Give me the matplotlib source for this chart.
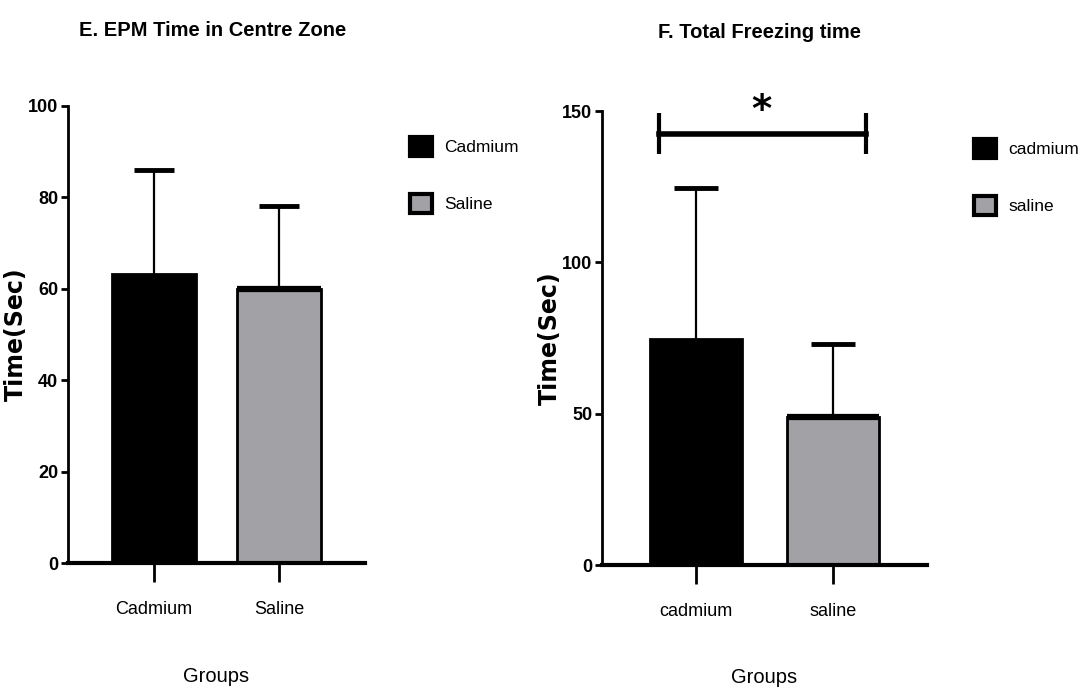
import numpy as np
import matplotlib.pyplot as plt
from matplotlib.patches import Patch

# data
groups_e = ['Cadmium', 'Saline']
means_e = [63.3, 60.0]
sem_e = [22.6, 18.2]

groups_f = ['cadmium', 'saline']
means_f = [74.7, 48.9]
sem_f = [49.8, 24.2]

colors = ['#000000', '#a2a2a6']

plt.rcParams['font.family'] = ['Liberation Sans', 'DejaVu Sans']

W, H = 1084, 695
fig = plt.figure(figsize=(W / 100, H / 100), dpi=100)


def panel(rect, groups, means, sem, ymax, step, title, title_xy, legend_xy, xlab_y):
    ax = fig.add_axes(rect)
    x = np.arange(len(groups))
    means = np.array(means)
    sem = np.array(sem)
    ax.bar(x, means, width=0.67, color=colors, edgecolor='black', linewidth=2, zorder=2)
    # heavier top edge on the grey bar, like the original
    ax.hlines(means[1], x[1] - 0.335, x[1] + 0.335, color='black', linewidth=4.5, zorder=3)
    # upper error bars only
    ax.vlines(x, means, means + sem, color='black', linewidth=1.6, zorder=1)
    ax.hlines(means + sem, x - 0.16, x + 0.16, color='black', linewidth=3.5, zorder=1)
    ax.set_xlim(-0.69, 1.69)
    ax.set_ylim(0, ymax)
    ax.set_yticks(np.arange(0, ymax + 1, step))
    ax.set_xticks(x)
    ax.set_xticklabels(groups, fontsize=13)
    for lab in ax.get_yticklabels():
        lab.set_fontsize(13)
        lab.set_fontweight('bold')
    for side in ['top', 'right']:
        ax.spines[side].set_visible(False)
    ax.spines['left'].set_linewidth(2)
    ax.spines['bottom'].set_linewidth(3)
    ax.spines['bottom'].set_zorder(4)
    ax.tick_params(axis='y', length=5, width=2, pad=2)
    ax.tick_params(axis='x', length=14, width=2, pad=13)
    ax.set_ylabel('Time(Sec)', fontsize=17, fontweight='bold', family='DejaVu Sans')
    ax.yaxis.set_label_coords(-40 / (rect[2] * W), 0.5)
    ax.set_xlabel('Groups', fontsize=14.5)
    ax.xaxis.set_label_coords(0.5, xlab_y)
    fig.text(title_xy[0] / W, 1 - title_xy[1] / H, title, fontsize=14.5, fontweight='bold',
             ha='center', va='center')
    handles = [Patch(facecolor=colors[i], edgecolor='black', linewidth=3, label=groups[i])
               for i in range(len(groups))]
    ax.legend(handles=handles, loc='upper left',
              bbox_to_anchor=(legend_xy[0] / W, 1 - legend_xy[1] / H),
              bbox_transform=fig.transFigure, frameon=False, fontsize=12.5, borderpad=0,
              handlelength=1.3, handleheight=1.3, labelspacing=2.2, handletextpad=0.7)
    return ax


axe = panel([68 / W, 1 - 563 / H, 297 / W, 457 / H], groups_e, means_e, sem_e,
            100, 20, 'E. EPM Time in Centre Zone', (213, 31), (401, 128), -0.228)
axf = panel([602 / W, 1 - 565 / H, 325 / W, 454 / H], groups_f, means_f, sem_f,
            150, 50, 'F. Total Freezing time', (759, 33), (965, 130), -0.226)

# significance bracket
axf.plot([-0.275, 1.246], [142.4, 142.4], color='black', linewidth=4, clip_on=False)
axf.vlines([-0.275, 1.246], 135.8, 149.2, color='black', linewidth=3, clip_on=False)
axf.text(0.48, 146.5, '*', ha='center', va='baseline', fontsize=28, fontweight='bold',
         family='DejaVu Sans')

fig.savefig('out.png', dpi=100)
